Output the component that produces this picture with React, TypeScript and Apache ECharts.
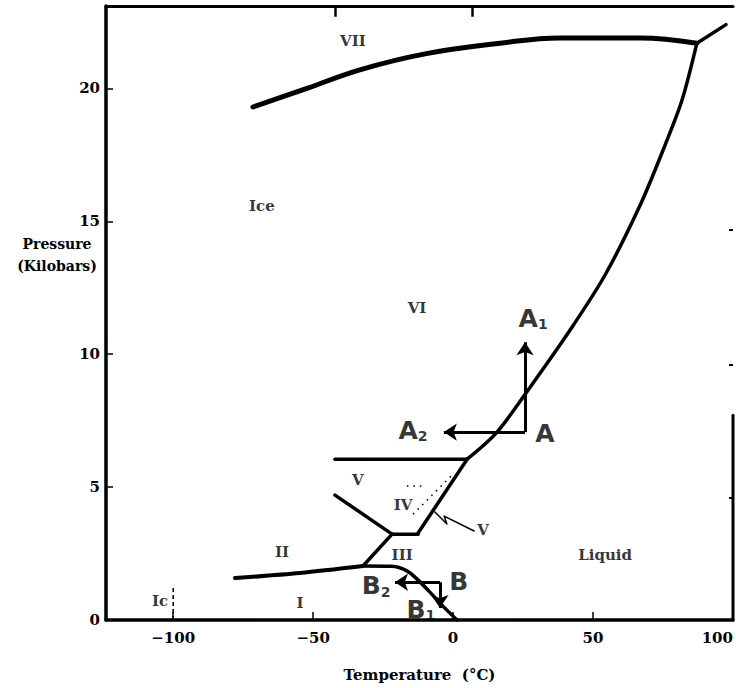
import React, { useEffect, useRef } from "react";
import * as echarts from "echarts";

// Axis ticks
const xTicks = [-100, -50, 0, 50, 100];
const yTicks = [0, 5, 10, 15, 20];
const topTicks = [-42, 7];
const rightTicks = [4.6, 9.6, 14.7];

// Phase boundaries [temperature °C, pressure kbar]
const viViiBoundary = [[-71.5, 19.3], [-52.2, 20.0], [-33.3, 20.7], [-10, 21.3], [16.8, 21.7], [38.2, 21.9], [66.8, 21.9], [87.1, 21.7]];
const viiMelting = [[87.1, 21.7], [97.5, 22.4]];
const viMelting = [[87.1, 21.7], [81.8, 19.56], [75.7, 17.86], [66.8, 15.6], [54.3, 12.98], [41.8, 10.91], [28.6, 8.92], [15.7, 7.07], [5.0, 6.05]];
const vIiiMelting = [[5.0, 6.05], [-12.5, 3.27]];
const viVBoundary = [[-42.2, 6.05], [5.0, 6.05]];
const vIiiBoundary = [[-21.8, 3.23], [-12.5, 3.23]];
const vIiBoundary = [[-42.2, 4.7], [-21.8, 3.23]];
const iiIiiBoundary = [[-21.8, 3.23], [-32.2, 2.03]];
const iiIBoundary = [[-77.9, 1.58], [-54.7, 1.77], [-32.2, 2.03]];
const iMelting = [[-32.2, 2.03], [-22.0, 2.02], [-16.5, 1.85], [-12.5, 1.5], [-8.3, 1.05], [-4.0, 0.56], [1.4, 0]];
const ivDiagonal = [[-14.3, 3.98], [0.0, 5.49]];
const ivHorizontal = [[-16.5, 5.04], [-11.1, 5.04]];
const icDashed = [[-100, 0.0], [-100, 1.3]];
const rightBorder = [[100, 0], [100, 7.7]];
const vLeader = [[-6.5, 4.06], [-2.2, 3.61], [-3.2, 3.91], [7.5, 3.35]];
const yMax = 23.1;

// Arrows
const pointA = [25.7, 7.07];
const pointA1 = [25.7, 10.45];
const pointA2 = [-3.3, 7.07];
const pointB = [-4.7, 1.42];
const pointB1 = [-4.7, 0.45];
const pointB2 = [-20.75, 1.42];

// Region labels
const regionLabels = [
  { text: "VII", at: [-35.8, 21.8] },
  { text: "Ice", at: [-68.3, 15.56] },
  { text: "VI", at: [-12.9, 11.73] },
  { text: "V", at: [-34.0, 5.26] },
  { text: "IV", at: [-17.9, 4.32] },
  { text: "V", at: [10.7, 3.38] },
  { text: "III", at: [-18.2, 2.44] },
  { text: "II", at: [-61.1, 2.56] },
  { text: "I", at: [-54.7, 0.64] },
  { text: "Ic", at: [-104.7, 0.71] },
  { text: "Liquid", at: [54.3, 2.44] },
];
const handLabels = [
  { text: "A", sub: "", at: [32.8, 7.0] },
  { text: "A", sub: "1", at: [28.6, 11.35] },
  { text: "A", sub: "2", at: [-14.3, 7.14] },
  { text: "B", sub: "", at: [2.0, 1.43] },
  { text: "B", sub: "2", at: [-27.5, 1.28] },
  { text: "B", sub: "1", at: [-11.5, 0.41] },
];

const serif = "DejaVu Serif";

function curve(data: number[][], width: number, extra: any = {}) {
  return {
    type: "line",
    data,
    showSymbol: false,
    symbol: "none",
    silent: true,
    clip: false,
    z: 3,
    lineStyle: { color: "#000", width, cap: "round", join: "round", ...(extra.lineStyle || {}) },
    smooth: extra.smooth || false,
  };
}

function arrow(from: number[], to: number[]) {
  return {
    type: "lines",
    coordinateSystem: "cartesian2d",
    silent: true,
    z: 4,
    symbol: ["none", "arrow"],
    symbolSize: 13,
    lineStyle: { color: "#000", width: 3, opacity: 1, curveness: 0 },
    data: [{ coords: [from, to] }],
  };
}

export default function App() {
  const ref = useRef<HTMLDivElement>(null);
  useEffect(() => {
    if (!ref.current) return;
    const chart = echarts.init(ref.current, null, { renderer: "svg" });
    const labelStyle = {
      color: "#000",
      fontFamily: serif,
      fontWeight: "bold",
      fontSize: 15,
    };
    const topTickSeries = {
      type: "lines",
      coordinateSystem: "cartesian2d",
      silent: true,
      z: 5,
      symbol: ["none", "none"],
      lineStyle: { color: "#000", width: 2.5, opacity: 1, curveness: 0 },
      data: topTicks.map((t) => ({ coords: [[t, yMax], [t, yMax - 0.4]] })),
    };
    const option: any = {
      animation: false,
      backgroundColor: "#fff",
      grid: { left: 106, right: 3, top: 6, bottom: 68 },
      xAxis: [
        {
          type: "value",
          min: -124,
          max: 100,
          position: "bottom",
          axisLine: { show: true, onZero: false, lineStyle: { color: "#000", width: 3.5 } },
          axisTick: { show: true, inside: true, length: 8, customValues: xTicks, lineStyle: { color: "#000", width: 1.5 } },
          axisLabel: {
            ...labelStyle,
            margin: 10,
            customValues: xTicks,
            alignMaxLabel: "right",
            formatter: (v: number) => (v < 0 ? "\u2212" + Math.abs(v) : String(v)),
          },
          splitLine: { show: false },
          name: "Temperature  (\u00B0C)",
          nameLocation: "middle",
          nameGap: 47,
          nameTextStyle: { ...labelStyle },
        },
        {
          type: "value",
          min: -124,
          max: 100,
          position: "top",
          axisLine: { show: true, onZero: false, lineStyle: { color: "#000", width: 3 } },
          axisTick: { show: false },
          axisLabel: { show: false },
          splitLine: { show: false },
        },
      ],
      yAxis: [
        {
          type: "value",
          min: 0,
          max: yMax,
          position: "left",
          axisLine: { show: true, onZero: false, lineStyle: { color: "#000", width: 3.5 } },
          axisTick: { show: true, inside: true, length: 7, customValues: yTicks, lineStyle: { color: "#000", width: 1.5 } },
          axisLabel: { ...labelStyle, margin: 6, customValues: yTicks },
          splitLine: { show: false },
        },
        {
          type: "value",
          min: 0,
          max: yMax,
          position: "right",
          axisLine: { show: false, onZero: false },
          axisTick: { show: true, inside: true, length: 4, customValues: rightTicks, lineStyle: { color: "#000", width: 2 } },
          axisLabel: { show: false },
          splitLine: { show: false },
        },
      ],
      graphic: [
        {
          type: "text",
          x: 57,
          y: 255,
          style: {
            text: "Pressure\n(Kilobars)",
            font: `bold 14px "${serif}"`,
            fill: "#000",
            align: "center",
            verticalAlign: "middle",
            lineHeight: 22,
          },
        },
      ],
      series: [
        curve(viViiBoundary, 5, { smooth: 0.4 }),
        curve(viiMelting, 3.5),
        curve(viMelting, 3.5, { smooth: 0.3 }),
        curve(vIiiMelting, 3.5),
        curve(viVBoundary, 3.5),
        curve(vIiiBoundary, 3.5),
        curve(vIiBoundary, 3.5),
        curve(iiIiiBoundary, 3.5),
        curve(iiIBoundary, 4, { smooth: 0.3 }),
        curve(iMelting, 3.5, { smooth: 0.3 }),
        curve(ivDiagonal, 1.5, { lineStyle: { type: [1.5, 5], cap: "butt" } }),
        curve(ivHorizontal, 1.5, { lineStyle: { type: [1.5, 5], cap: "butt" } }),
        curve(icDashed, 1.5, { lineStyle: { type: [4, 3], cap: "butt" } }),
        curve(rightBorder, 3),
        curve(vLeader, 1.5),
        topTickSeries,
        arrow(pointA, pointA1),
        arrow(pointA, pointA2),
        arrow(pointB, pointB2),
        arrow(pointB, pointB1),
        {
          type: "scatter",
          silent: true,
          z: 6,
          symbolSize: 1,
          itemStyle: { color: "rgba(0,0,0,0)" },
          data: regionLabels.map((d) => ({
            value: d.at,
            label: { show: true, position: "inside", formatter: d.text, ...labelStyle },
          })),
        },
        {
          type: "scatter",
          silent: true,
          z: 6,
          symbolSize: 1,
          itemStyle: { color: "rgba(0,0,0,0)" },
          data: handLabels.map((d) => ({
            value: d.at,
            label: {
              show: true,
              position: "inside",
              formatter: d.sub ? `{m|${d.text}}{s|${d.sub}}` : `{m|${d.text}}`,
              rich: {
                m: { fontFamily: "DejaVu Sans", fontWeight: "bold", fontSize: 25, color: "#000" },
                s: { fontFamily: "DejaVu Sans", fontWeight: "bold", fontSize: 14, color: "#000", padding: [12, 0, 0, 0] },
              },
            },
          })),
        },
      ],
    };
    chart.setOption(option);
    return () => chart.dispose();
  }, []);
  return (
    <div
      ref={ref}
      style={{ position: "absolute", left: 0, top: 0, width: 736, height: 688, background: "#fff" }}
    />
  );
}
